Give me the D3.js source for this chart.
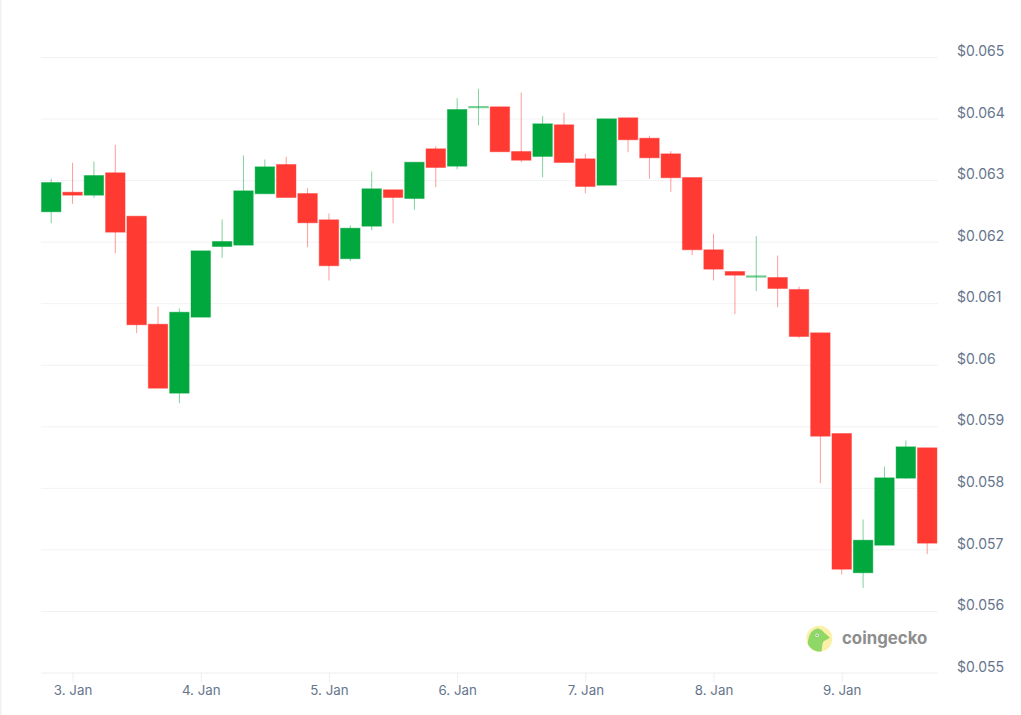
<!DOCTYPE html>
<html><head><meta charset="utf-8">
<script src="https://cdn.jsdelivr.net/npm/d3@7/dist/d3.min.js"></script>
<style>
html,body{margin:0;padding:0;background:#fff;overflow:hidden}
svg{display:block;font-family:Inter,"Noto Sans",sans-serif}
</style></head><body>
<svg id="c" width="1021" height="715"></svg>
<script>
const firstTime = "2025-01-02T20:00:00Z";
const stepHours = 4;
const open = [62.493,62.812,62.763,63.127,62.422,60.667,59.546,60.781,61.929,61.951,62.786,63.262,62.790,62.363,61.730,62.259,62.851,62.709,63.517,63.234,64.183,64.199,63.473,63.392,63.907,63.354,62.925,64.020,63.689,63.435,63.050,61.876,61.523,61.431,61.426,61.231,60.527,58.891,56.628,57.076,58.165,58.659];
const high = [63.029,63.289,63.310,63.582,62.422,60.955,60.922,61.859,62.368,63.408,63.343,63.387,62.877,62.466,62.271,63.148,62.851,63.299,63.559,64.339,64.492,64.199,64.431,64.046,64.102,63.435,64.004,64.020,63.728,63.478,63.050,62.136,61.523,62.097,61.783,61.279,60.527,58.891,57.494,58.355,58.777,58.659];
const low = [62.308,62.623,62.721,61.820,60.521,59.627,59.383,60.781,61.746,61.951,62.786,62.725,61.918,61.377,61.691,62.194,62.308,62.526,62.893,63.185,63.895,63.468,63.299,63.055,63.294,62.795,62.925,63.461,63.029,62.818,61.788,61.377,60.829,61.203,60.943,60.439,58.084,56.600,56.384,57.076,58.155,56.930];
const close = [62.969,62.763,63.083,62.162,60.657,59.627,60.862,61.859,62.011,62.834,63.224,62.725,62.314,61.616,62.227,62.867,62.725,63.299,63.213,64.155,64.204,63.468,63.331,63.923,63.294,62.904,64.004,63.663,63.370,63.046,61.876,61.561,61.463,61.453,61.247,60.467,58.847,56.686,57.158,58.171,58.675,57.109];
const yTicks = [55,56,57,58,59,60,61,62,63,64,65];
const yLabels = ["$0.055","$0.056","$0.057","$0.058","$0.059","$0.06","$0.061","$0.062","$0.063","$0.064","$0.065"];
const xTicks = ["2025-01-03","2025-01-04","2025-01-05","2025-01-06","2025-01-07","2025-01-08","2025-01-09"];
const xLabels = ["3. Jan","4. Jan","5. Jan","6. Jan","7. Jan","8. Jan","9. Jan"];

const GREEN="#00A83E", RED="#FF3A33", GRID="#f1f2f5", AXIS="#eceef2", TEXT="#66758c";
const svg=d3.select("#c");
const t0=new Date(firstTime).getTime();
const times=open.map((_,i)=>new Date(t0+i*stepHours*3600e3));
const x=d3.scaleUtc().domain([times[0],times[times.length-1]]).range([51.2,927.2]);
const y=d3.scaleLinear().domain([55,65]).range([672.5,57]);
const L=41,R=938,BW=19.5;

svg.append("rect").attr("x",0).attr("y",0).attr("width",1.5).attr("height",715).attr("fill","#eff2f5");

const yAxis=d3.axisRight(y).tickValues(yTicks).tickFormat((d,i)=>yLabels[i]).tickSize(R-L).tickPadding(0);
const gy=svg.append("g").attr("transform",`translate(${L},0)`).call(yAxis);
gy.select(".domain").remove();
gy.selectAll(".tick line").attr("stroke",d=>d===55?AXIS:GRID).attr("stroke-width",1);
gy.selectAll(".tick text").attr("x",916).attr("dy",0).attr("y",-5.2).attr("dominant-baseline","middle")
  .attr("fill",TEXT).style("font-size","14px").style("font-family","Inter");

const xAxis=d3.axisBottom(x).tickValues(xTicks.map(d=>new Date(d+"T00:00:00Z"))).tickFormat((d,i)=>xLabels[i]).tickSize(10).tickPadding(2);
const gx=svg.append("g").attr("transform","translate(0,672.5)").call(xAxis);
gx.select(".domain").remove();
gx.selectAll(".tick line").attr("stroke",AXIS).attr("stroke-width",1);
gx.selectAll(".tick text").attr("fill",TEXT).style("font-size","13.3px").style("font-family","Inter").attr("y",13.3).attr("dy","0.71em");

const data=open.map((o,i)=>({t:times[i],o,h:high[i],l:low[i],c:close[i]}));
const g=svg.append("g").attr("transform","translate(0,0.5)").selectAll("g").data(data).join("g");
const col=d=>d.c>=d.o?GREEN:RED;
g.append("line").attr("x1",d=>x(d.t)).attr("x2",d=>x(d.t)).attr("y1",d=>y(d.h)).attr("y2",d=>y(d.l))
  .attr("stroke",col).attr("stroke-opacity",0.5).attr("stroke-width",1);
g.append("rect").attr("x",d=>x(d.t)-BW/2).attr("width",BW)
  .attr("y",d=>y(Math.max(d.o,d.c))).attr("height",d=>Math.max(0.5,Math.abs(y(d.o)-y(d.c))))
  .attr("fill",col).attr("fill-opacity",d=>Math.abs(y(d.o)-y(d.c))<2?0.4:1)
  .attr("stroke",col).attr("stroke-opacity",0.42).attr("stroke-width",1);

const lg=svg.append("g").attr("transform","translate(819.3,638.7)");
lg.append("circle").attr("r",13).attr("fill","#fbf0a8");
lg.append("path").attr("d","M-11.5,5 C-11,-2 -9,-8 -3,-10 C1,-11 3,-8 5,-6 C7,-4 9,-3 10.5,-1 C8,1 5,1 3.5,4 C2.5,7 3,10 2,12.8 C-4,13.5 -9,10 -11.5,5 Z").attr("fill","#8fd868");
lg.append("circle").attr("cx",-2.2).attr("cy",-3.5).attr("r",1.7).attr("fill","#e8f5e0");
lg.append("circle").attr("cx",-2.2).attr("cy",-3.5).attr("r",0.8).attr("fill","#6d7a68");
svg.append("text").attr("x",842).attr("y",644).text("coingecko")
  .attr("fill","#8e8e8e").style("font-size","16.8px").style("font-weight","700").style("font-family","Inter");
</script>
</body></html>
